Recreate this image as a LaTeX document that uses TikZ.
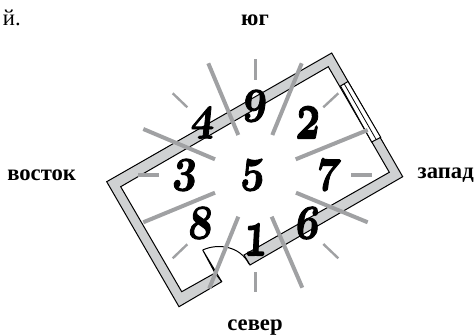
\documentclass[tikz,border=0pt]{standalone}
\usepackage{fontspec}
\setmainfont{Liberation Serif}
\usepackage{tikz}
\usetikzlibrary{positioning,calc}
\definecolor{wallgray}{RGB}{207,209,210}
\definecolor{raygray}{RGB}{160,161,163}
\newcommand{\oldfig}{\fontencoding{OML}\fontfamily{cmm}\fontseries{b}\fontshape{it}\fontsize{24.88}{26}\selectfont}
\newcommand{\fatfig}[1]{\special{pdf:code 2 Tr 0.5 w}#1\special{pdf:code 0 Tr 1 w}}
\tikzset{
  side/.style={font=\bfseries\fontsize{17}{19}\selectfont,inner sep=0pt},
  digit/.style={font=\oldfig,inner sep=0pt,xscale=1.25,yscale=1.45,xslant=0.12},
  lowdigit/.style={font=\oldfig,inner sep=0pt,xscale=1.25,yscale=2.1,xslant=0.08},
  wall/.style={draw=black,fill=wallgray,line width=0.75pt,line join=miter},
  longray/.style={draw=raygray,line width=3pt},
  shortray/.style={draw=raygray,line width=2.4pt},
  diagray/.style={draw=raygray,line width=1.8pt}
}
\begin{document}
\begin{tikzpicture}[x=0.75pt,y=-0.75pt]
\useasboundingbox (0,0) rectangle (475,335);
% walls
\draw[wall] (221.7,281.7)--(179,306.7)--(106.7,181.7)--(331.7,53)--(402.7,176.7)--(250,265)--(244,255)--(389.3,172.3)--(328.3,66.7)--(120.7,186.7)--(181.7,291.7)--(215,273)--cycle;
% window
\draw[line width=0.75pt,fill=white] (348,81.5)--(380.7,137.3)--(371.7,142)--(340.5,86)--cycle;
\draw[line width=0.6pt] (344.2,83.8)--(376.2,139.6);
% door
\draw[line width=0.75pt] (215,273)--(202.7,250)--(221.7,281.7);
\draw[line width=0.75pt] (202.7,250) .. controls (218,243) and (240,246) .. (249,264);
% rays
\foreach \xa/\ya/\xb/\yb in {208.3/63.3/238.3/135,143.3/129/215/159.3,301.7/63.3/272.3/135,295.7/159.3/367.7/130,143.3/222.3/215/192.7,238.3/216.7/209.3/288.3,271.7/216.7/302.3/287.7,296/192.7/367.7/222.3}{\draw[longray] (\xa,\ya)--(\xb,\yb);}
\foreach \xa/\ya/\xb/\yb in {255.4/59.3/255.4/80,255.6/272.3/255.6/292.3,138.3/175/159/175,351/175/371.7/175}{\draw[shortray] (\xa,\ya)--(\xb,\yb);}
\foreach \xa/\ya/\xb/\yb in {172.7/93.3/187.3/107.3,338.3/93.3/323.3/107.3,187.3/244.3/172.7/258.3,323.3/244/338.3/258.3}{\draw[diagray] (\xa,\ya)--(\xb,\yb);}
% digits
\foreach \n/\x/\y in {4/203/123,9/255/106,3/185/175,5/253/175,7/328/175,8/201/223,6/308/223}{\node[digit] (num\n) at (\x,\y) {\fatfig{\n}};}
\foreach \n/\x/\y in {2/308/123,1/256/240}{\node[lowdigit] (num\n) at (\x,\y) {\fatfig{\n}};}
% labels
\node[side] (south) at (255,20) {юг};
\node[side,anchor=west] (east) at (7,175) {восток};
\node[side,anchor=east] (west) at (474,175) {запад};
\node[side] (north) at (255,328) {север};
\node[anchor=east,inner sep=0pt,font=\fontsize{17}{19}\selectfont] (top) at (21,18) {й.};
\end{tikzpicture}
\end{document}
